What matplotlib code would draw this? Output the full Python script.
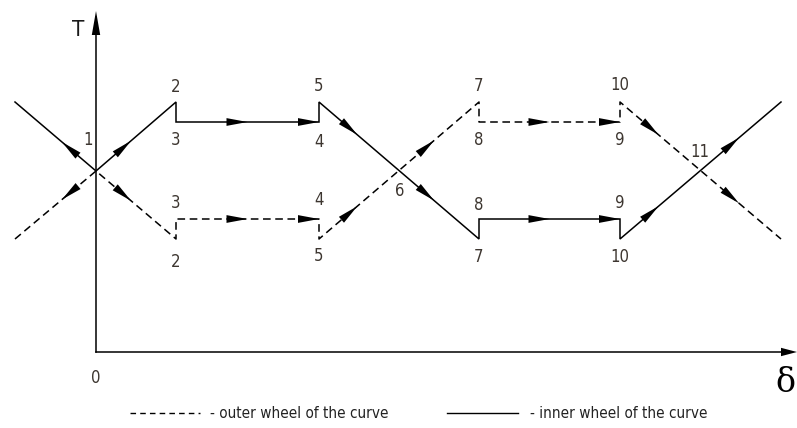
import numpy as np
import matplotlib
matplotlib.use("Agg")
import matplotlib.pyplot as plt
from matplotlib.patches import Polygon

plt.rcParams['font.family'] = ['Liberation Sans Narrow', 'DejaVu Sans']
plt.rcParams['font.stretch'] = 'condensed'

# vertices of the two curves (delta, T) relative to the origin
delta_pts = [-81, 0, 80, 80, 223, 223, 383, 383, 524, 524, 685]
T_inner = [250, 181, 250, 230, 230, 250, 113, 133, 133, 113, 250]
T_outer = [113, 181, 113, 133, 133, 113, 250, 230, 230, 250, 113]

# arrows: (segment index, fraction of the tip along the segment, points backwards)
inner_arrows = [(0, 0.58, True), (1, 0.44, False), (3, 0.5, False), (3, 1.0, False),
                (5, 0.24, False), (5, 0.72, False), (7, 0.5, False), (7, 1.0, False),
                (9, 0.24, False), (9, 0.74, False)]
outer_arrows = inner_arrows

# point labels: (text, delta, T)
point_labels = [
    ("1", -8, 212),
    ("2", 80, 265), ("3", 80, 212), ("3", 80, 149), ("2", 80, 90),
    ("5", 223, 266), ("4", 223, 210), ("4", 223, 152), ("5", 223, 96),
    ("6", 304, 161),
    ("7", 383, 266), ("8", 383, 212), ("8", 383, 147), ("7", 383, 95),
    ("10", 524, 267), ("9", 524, 212), ("9", 524, 149), ("10", 524, 95),
    ("11", 604, 200),
]

fig = plt.figure(figsize=(7.97, 4.28), dpi=100)
ax = fig.add_axes([0, 0, 1, 1])
ax.set_xlim(-96, 701)
ax.set_ylim(-76, 352)
ax.axis('off')


def arrowhead(x, y, dx, dy, length=21, half=3.9):
    n = np.hypot(dx, dy)
    ux, uy = dx / n, dy / n
    px, py = -uy, ux
    pts = [(x, y),
           (x - ux * length + px * half, y - uy * length + py * half),
           (x - ux * length - px * half, y - uy * length - py * half)]
    ax.add_patch(Polygon(pts, closed=True, color='black', lw=0, zorder=5))


def draw_arrows(xs, ys, arrows):
    for seg, frac, back in arrows:
        x0, y0, x1, y1 = xs[seg], ys[seg], xs[seg + 1], ys[seg + 1]
        if back:
            x0, y0, x1, y1 = x1, y1, x0, y0
            frac = 1 - frac
        tx = x0 + (x1 - x0) * frac
        ty = y0 + (y1 - y0) * frac
        arrowhead(tx, ty, x1 - x0, y1 - y0)


# coordinate axes
ax.plot([0, 0], [0, 335], color='black', lw=1.1)
ax.plot([0, 695], [0, 0], color='black', lw=1.1)
arrowhead(0, 341, 0, 1, length=24, half=4.2)
arrowhead(701, 0, 1, 0, length=16, half=4.2)

ax.plot(delta_pts, T_inner, color='black', lw=1.1, solid_joinstyle='miter')
ax.plot(delta_pts, T_outer, color='black', lw=1.1, linestyle=(0, (5, 3)))
draw_arrows(delta_pts, T_inner, inner_arrows)
draw_arrows(delta_pts, T_outer, outer_arrows)

lab_color = '#3d3630'
for txt, x, y in point_labels:
    ax.text(x, y, txt, ha='center', va='center', fontsize=12, color=lab_color)

ax.text(-18, 322, "T", ha='center', va='center', fontsize=16, color='#1a1a1a')
ax.text(0, -26, "0", ha='center', va='center', fontsize=12, color=lab_color)
ax.text(689, -31, "δ", ha='center', va='center', fontsize=24, color='black',
        family=['DejaVu Serif'], fontstretch='normal')

# legend
ax.plot([34, 104], [-61, -61], color='black', lw=1.0, linestyle=(0, (4, 3)))
ax.text(114, -61, "- outer wheel of the curve", ha='left', va='center',
        fontsize=11, color='#222222')
ax.plot([351, 422], [-61, -61], color='black', lw=1.0)
ax.text(434, -61, "- inner wheel of the curve", ha='left', va='center',
        fontsize=11, color='#222222')

fig.savefig("out.png", dpi=100)
